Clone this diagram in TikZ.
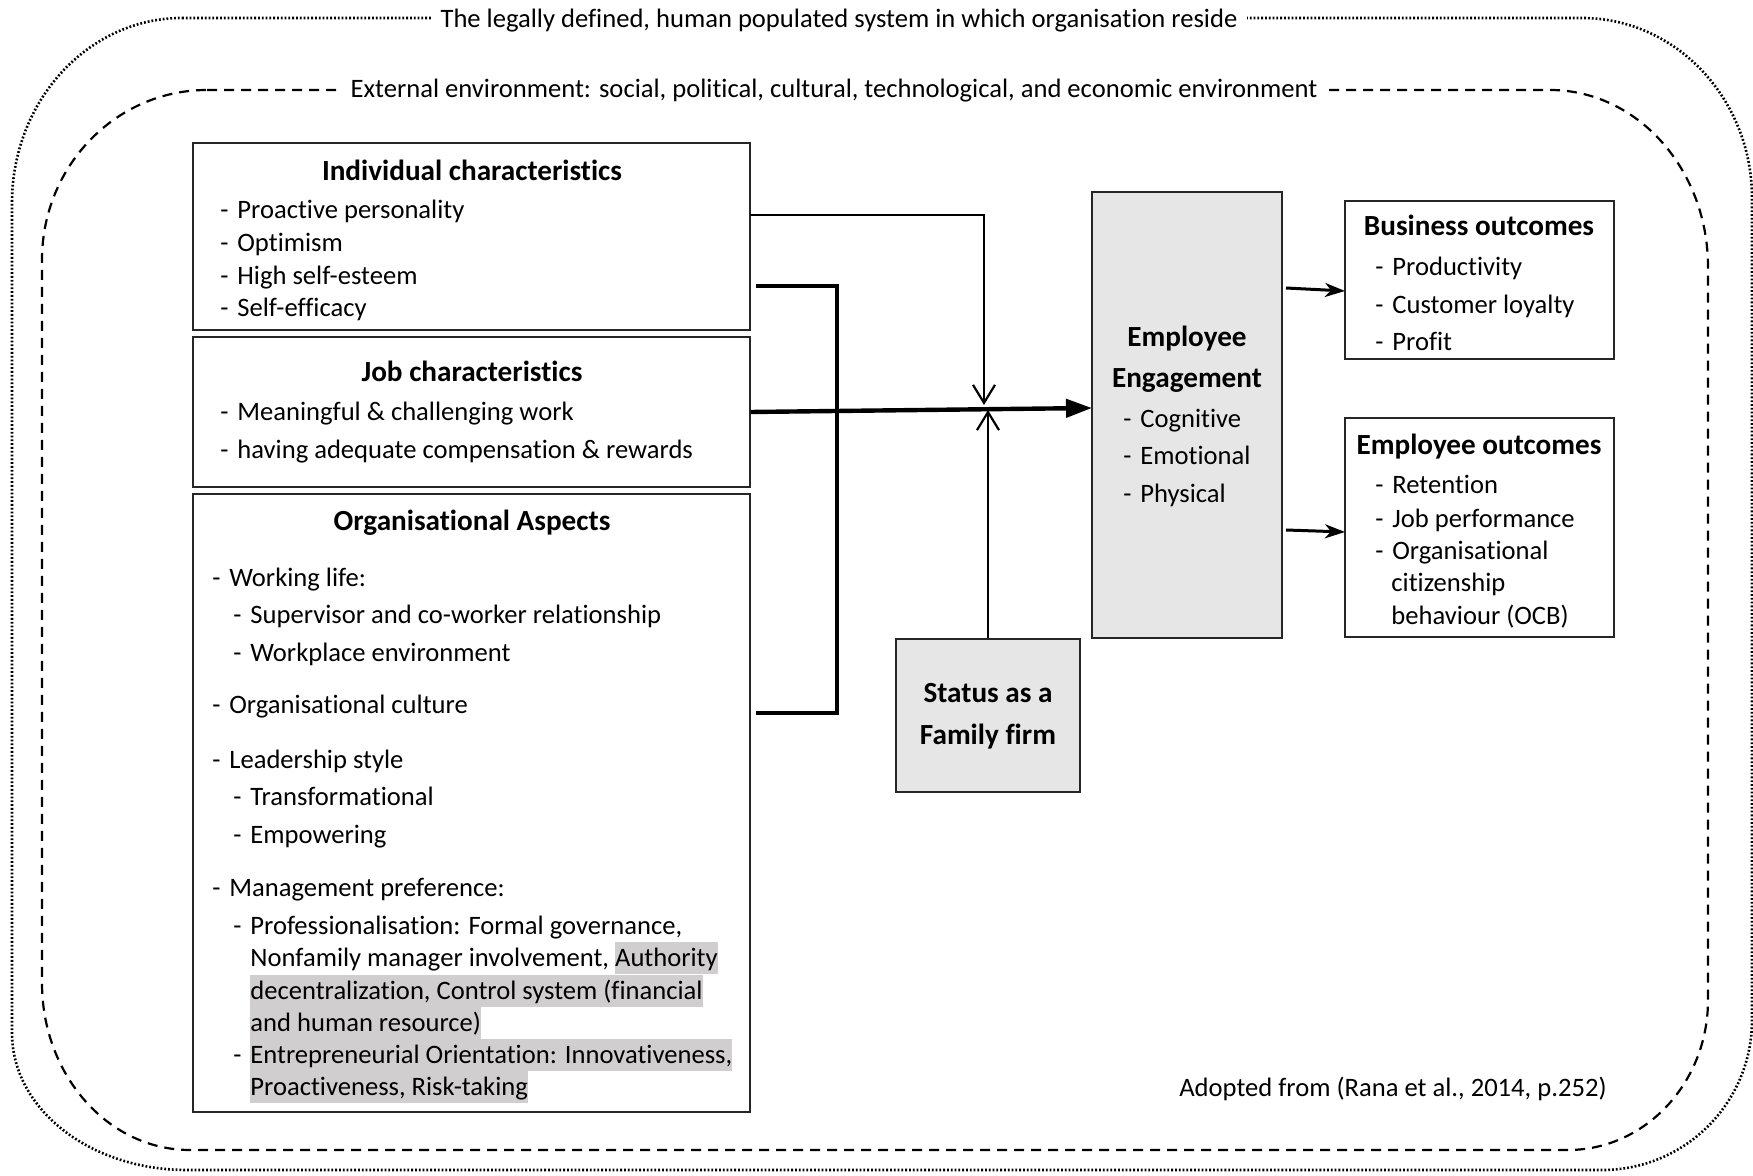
\documentclass[tikz,border=0pt]{standalone}
\usepackage{fontspec}
\setmainfont{Carlito}[Ligatures=NoCommon]
\usetikzlibrary{arrows.meta,fit}
\definecolor{boxgray}{RGB}{230,230,230}
\definecolor{hlgray}{RGB}{208,206,206}
% list dash with a fixed gap before the item text
\newcommand{\itm}{\makebox[8.5pt][l]{-}}
% grey text highlight spanning the full line height
\newcommand{\hlt}[1]{{\setlength{\fboxsep}{0pt}\colorbox{hlgray}{\rule[-3.8pt]{0pt}{16pt}#1}}}

\begin{document}
\begin{tikzpicture}[x=0.5pt,y=-0.5pt,
  every node/.style={font=\fontsize{13.3}{15}\selectfont},
  box/.style={draw=black!85, line width=0.7pt, inner sep=0pt},
  shaded/.style={box, fill=boxgray},
  head/.style={anchor=mid, inner sep=0pt, yshift=-2.5pt, font=\fontsize{14.6}{16}\selectfont\bfseries},
  txt/.style={anchor=mid west, inner sep=0pt, yshift=-2.5pt},
  frametitle/.style={anchor=mid, fill=white, inner xsep=5pt, inner ysep=2pt},
  thinline/.style={line width=1.1pt},
  heavyline/.style={line width=2.2pt, line join=miter},
  midline/.style={line width=1.5pt},
  barb/.style={-{Straight Barb[length=9pt,width=11pt]}},
  outer/.style={line width=1.3pt, dash pattern=on 0.9pt off 1pt},
  inner/.style={line width=1.1pt, dash pattern=on 5pt off 3.5pt}
]
\useasboundingbox (0,0) rectangle (1753,1176);

% outer system boundary (dotted)
\draw[outer] (182,18) -- (1582,18)
  .. controls (1676,18) and (1752,99) .. (1752,198)
  -- (1752,1020)
  .. controls (1752,1103) and (1685,1170) .. (1602,1170)
  -- (187,1170)
  .. controls (90,1170) and (12,1109) .. (12,1033)
  -- (12,203)
  .. controls (12,101) and (88,18) .. cycle;

% external environment boundary (dashed)
\draw[inner] (207,90) -- (1550,90)
  .. controls (1637,90) and (1708,169) .. (1708,267)
  -- (1708,1000)
  .. controls (1708,1083) and (1645,1150) .. (1568,1150)
  -- (190,1150)
  .. controls (108,1150) and (42,1075) .. (42,983)
  -- (42,260)
  .. controls (42,166) and (116,90) .. cycle;

\node[frametitle] (systitle) at (839,23) {The legally defined, human populated system in which organisation reside};
\node[frametitle] (envtitle) at (834,93) {External environment: social, political, cultural, technological, and economic environment};

% boxes
\node[box, fit={(193,143) (750,330)}] (indiv) {};
\node[box, fit={(193,337) (750,487)}] (job) {};
\node[box, fit={(193,494) (750,1112)}] (org) {};
\node[shaded, fit={(896,639) (1080,792)}] (family) {};
\node[shaded, fit={(1092,192) (1282,638)}] (engage) {};
\node[box, fit={(1345,201) (1614,359)}] (bus) {};
\node[box, fit={(1345,418) (1614,637)}] (emp) {};

% individual characteristics
\node[head] (indivh) at (472,171) {Individual characteristics};
\node[txt] (ind1) at (220,209) {\itm Proactive personality};
\node[txt] (ind2) at (220,242) {\itm Optimism};
\node[txt] (ind3) at (220,275) {\itm High self-esteem};
\node[txt] (ind4) at (220,307) {\itm Self-efficacy};

% job characteristics
\node[head] (jobh) at (472,372) {Job characteristics};
\node[txt] (job1) at (220,411) {\itm Meaningful \& challenging work};
\node[txt] (job2) at (220,449) {\itm having adequate compensation \& rewards};

% organisational aspects
\node[head] (orgh) at (472,521) {Organisational Aspects};
\node[txt] (org1) at (212,577) {\itm Working life:};
\node[txt] (org2) at (233,614) {\itm Supervisor and co-worker relationship};
\node[txt] (org3) at (233,652) {\itm Workplace environment};
\node[txt] (org4) at (212,704) {\itm Organisational culture};
\node[txt] (org5) at (212,759) {\itm Leadership style};
\node[txt] (org6) at (233,796) {\itm Transformational};
\node[txt] (org7) at (233,834) {\itm Empowering};
\node[txt] (org8) at (212,887) {\itm Management preference:};
\node[txt] (org9) at (233,925) {\itm Professionalisation: Formal governance,};
\node[txt] (org10) at (250,957) {Nonfamily manager involvement, \hlt{Authority}};
\node[txt] (org11) at (250,990) {\hlt{decentralization, Control system (financial}};
\node[txt] (org12) at (250,1022) {\hlt{and human resource)}};
\node[txt] (org13) at (233,1054) {\itm\hlt{Entrepreneurial Orientation: Innovativeness,}};
\node[txt] (org14) at (250,1086) {\hlt{Proactiveness, Risk-taking}};

% family firm status
\node[head] (fam1) at (988,693) {Status as a};
\node[head] (fam2) at (988,735) {Family firm};

% employee engagement
\node[head] (eng1) at (1187,337) {Employee};
\node[head] (eng2) at (1187,378) {Engagement};
\node[txt] (eng3) at (1123,418) {\itm Cognitive};
\node[txt] (eng4) at (1123,455) {\itm Emotional};
\node[txt] (eng5) at (1123,493) {\itm Physical};

% business outcomes
\node[head] (bush) at (1479,226) {Business outcomes};
\node[txt] (bus1) at (1375,266) {\itm Productivity};
\node[txt] (bus2) at (1375,304) {\itm Customer loyalty};
\node[txt] (bus3) at (1375,341) {\itm Profit};

% employee outcomes
\node[head] (emph) at (1479,445) {Employee outcomes};
\node[txt] (emp1) at (1375,484) {\itm Retention};
\node[txt] (emp2) at (1375,518) {\itm Job performance};
\node[txt] (emp3) at (1375,550) {\itm Organisational};
\node[txt] (emp4) at (1391,582) {citizenship};
\node[txt] (emp5) at (1391,615) {behaviour (OCB)};

\node[anchor=mid east, inner sep=0pt, yshift=-2.5pt] (source) at (1607,1087) {Adopted from (Rana et al., 2014, p.252)};

% connector end points
\coordinate (indivout) at (750,215);
\coordinate (jdown) at (984,405);
\coordinate (jup) at (988,410);
\coordinate (brtop) at (756,286);
\coordinate (brbot) at (756,713);
\coordinate (engin) at (1092,408);
\coordinate (busout) at (1286,288);
\coordinate (busin) at (1345,291);
\coordinate (empout) at (1286,530);
\coordinate (empin) at (1345,532);

% connectors
\draw[thinline, barb] (indivout) -| (jdown);
\draw[thinline, barb] (family.north) -- (jup);
\draw[heavyline] (brtop) -- (837,286) -- (837,713) -- (brbot);
\draw[heavyline, -{Triangle[length=13pt,width=9pt]}] (job.east) -- (engin);
\draw[midline, -{Stealth[length=10pt,width=7pt,inset=3pt]}] (busout) -- (busin);
\draw[midline, -{Stealth[length=10pt,width=7pt,inset=3pt]}] (empout) -- (empin);
\end{tikzpicture}
\end{document}
